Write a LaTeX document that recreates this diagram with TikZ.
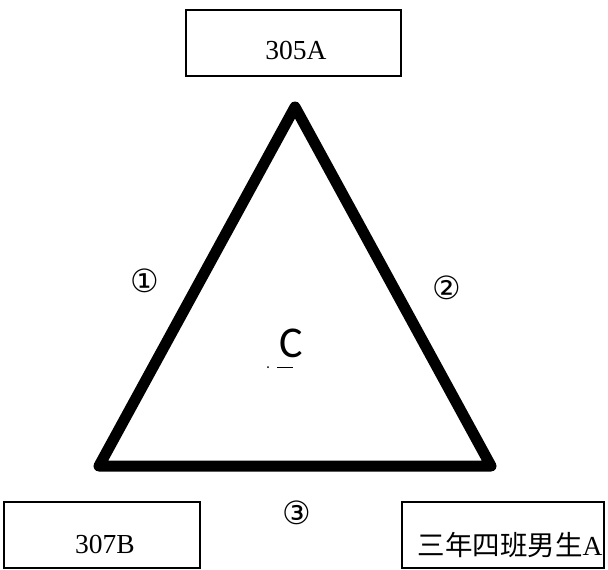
\documentclass[tikz,border=0pt]{standalone}
\usepackage{fontspec}
\setmainfont{Liberation Serif}
\newfontfamily\cjk{Noto Sans CJK SC}
\newfontfamily\dejavu{DejaVu Sans}
\newfontfamily\carlito{Carlito}
\begin{document}
\begin{tikzpicture}[x=1pt,y=-1pt,
  boxstyle/.style={draw=black,line width=1.3pt,rectangle,inner sep=0pt},
  lbl/.style={font=\fontsize{27.5}{30}\selectfont,inner sep=0pt,anchor=base},
  circnum/.style={font=\dejavu\fontsize{32}{34}\selectfont,inner sep=0pt},
  tri/.style={line width=11pt,line join=round,line cap=round}]
\useasboundingbox (0,0) rectangle (608,570);
% boxes
\node[boxstyle,minimum width=215pt,minimum height=66pt] (boxA) at (293.5,43) {};
\node[boxstyle,minimum width=196pt,minimum height=66pt] (boxB) at (102,535) {};
\node[boxstyle,minimum width=202pt,minimum height=66pt] (boxC) at (503,535) {};
\node[lbl] (tA) at (296,59) {305A};
\node[lbl] (tB) at (105,553) {307B};
\node[lbl] (tC) at (510,555) {{\cjk 三年四班男生}A};
% triangle
\coordinate (top) at (295,107);
\coordinate (bl) at (99,466);
\coordinate (br) at (491,466);
\draw[tri] (top) -- (bl) -- (br) -- cycle;
% circled numbers
\node[circnum] (n1) at (145,281) {①};
\node[circnum] (n2) at (447,288) {②};
\node[circnum] (n3) at (297,513) {③};
% centre label
\node[font=\carlito\fontsize{44}{48}\selectfont,inner sep=0pt] (cc) at (291,343) {C};
\coordinate (m1) at (277,367);
\coordinate (m2) at (293,367);
\draw[line width=1pt] (m1) -- (m2);
\fill (268,367) circle[radius=1pt];
\end{tikzpicture}
\end{document}
